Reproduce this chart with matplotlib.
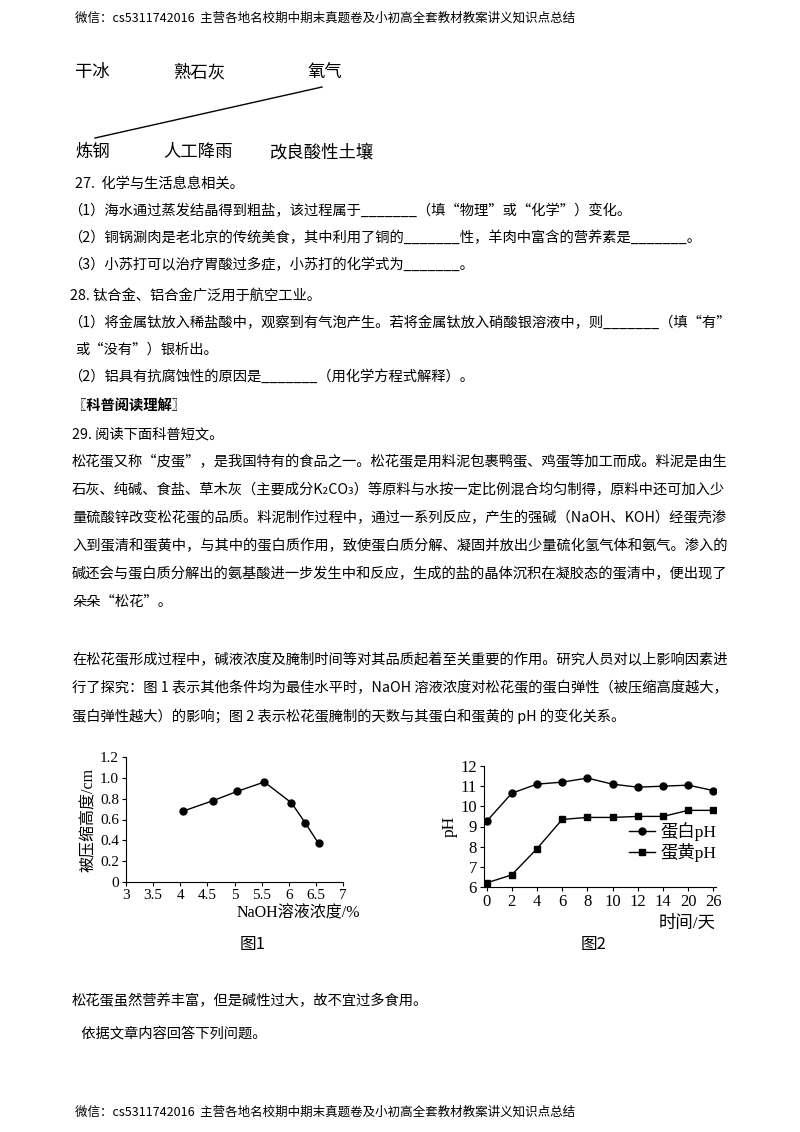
import matplotlib
matplotlib.use("Agg")
import matplotlib.pyplot as plt
from matplotlib.lines import Line2D

plt.rcParams['font.family'] = ['Noto Sans CJK SC', 'DejaVu Sans']

# Figure 1 data
naoh_conc = [4.05, 4.6, 5.05, 5.55, 6.05, 6.3, 6.55]
compress_height = [0.68, 0.78, 0.87, 0.96, 0.76, 0.57, 0.37]
# Figure 2 data
days = ['0', '2', '4', '6', '8', '10', '12', '14', '20', '26']
white_ph = [9.25, 10.65, 11.1, 11.2, 11.4, 11.1, 10.95, 11.0, 11.05, 10.78]
yolk_ph = [6.2, 6.6, 7.9, 9.35, 9.45, 9.45, 9.5, 9.5, 9.8, 9.8]

W, H = 800, 1132
fig = plt.figure(figsize=(8, 11.32), dpi=100)

def T(x, y, s, size=10.3, **kw):
    fig.text(x / W, 1 - y / H, s, fontsize=size, va='center', ha=kw.pop('ha', 'left'), **kw)

hdr = "微信：cs5311742016  主营各地名校期中期末真题卷及小初高全套教材教案讲义知识点总结"
T(75, 18, hdr, size=9)
T(75, 1112, hdr, size=9)

T(75, 72, "干冰", size=12.5)
T(173, 72, "熟石灰", size=12.5)
T(308, 72, "氧气", size=12.5)
T(75, 152, "炼钢", size=12.5)
T(163, 152, "人工降雨", size=12.5)
T(270, 152, "改良酸性土壤", size=12.5)
fig.add_artist(Line2D([95 / W, 322 / W], [1 - 138 / H, 1 - 87 / H], color='black', lw=1))

lines = [
    (75, 184, "27.  化学与生活息息相关。"),
    (68, 211, "（1）海水通过蒸发结晶得到粗盐，该过程属于_______（填“物理”或“化学”）变化。"),
    (68, 238, "（2）铜锅涮肉是老北京的传统美食，其中利用了铜的_______性，羊肉中富含的营养素是_______。"),
    (68, 265, "（3）小苏打可以治疗胃酸过多症，小苏打的化学式为_______。"),
    (70, 296, "28. 钛合金、铝合金广泛用于航空工业。"),
    (68, 323, "（1）将金属钛放入稀盐酸中，观察到有气泡产生。若将金属钛放入硝酸银溶液中，则_______（填“有”"),
    (75, 350, "或“没有”）银析出。"),
    (68, 377, "（2）铝具有抗腐蚀性的原因是_______（用化学方程式解释）。"),
    (72, 434, "29. 阅读下面科普短文。"),
    (72, 462, "松花蛋又称“皮蛋”，是我国特有的食品之一。松花蛋是用料泥包裹鸭蛋、鸡蛋等加工而成。料泥是由生"),
    (72, 490, "石灰、纯碱、食盐、草木灰（主要成分K₂CO₃）等原料与水按一定比例混合均匀制得，原料中还可加入少"),
    (72, 518, "量硫酸锌改变松花蛋的品质。料泥制作过程中，通过一系列反应，产生的强碱（NaOH、KOH）经蛋壳渗"),
    (72, 546, "入到蛋清和蛋黄中，与其中的蛋白质作用，致使蛋白质分解、凝固并放出少量硫化氢气体和氨气。渗入的"),
    (72, 574, "碱还会与蛋白质分解出的氨基酸进一步发生中和反应，生成的盐的晶体沉积在凝胶态的蛋清中，便出现了"),
    (72, 602, "朵朵“松花”。"),
    (72, 660, "在松花蛋形成过程中，碱液浓度及腌制时间等对其品质起着至关重要的作用。研究人员对以上影响因素进"),
    (72, 688, "行了探究：图 1 表示其他条件均为最佳水平时，NaOH 溶液浓度对松花蛋的蛋白弹性（被压缩高度越大，"),
    (72, 716, "蛋白弹性越大）的影响；图 2 表示松花蛋腌制的天数与其蛋白和蛋黄的 pH 的变化关系。"),
    (72, 1001, "松花蛋虽然营养丰富，但是碱性过大，故不宜过多食用。"),
    (78, 1033, " 依据文章内容回答下列问题。"),
]
for x, y, s in lines:
    T(x, y, s)
T(72, 406, "〖科普阅读理解〗", weight='bold')
T(253, 944, "图1", size=12, ha='center')
T(594, 944, "图2", size=12, ha='center')

serif = ['Liberation Serif', 'Noto Sans CJK SC']

# Figure 1 axes
ax1 = fig.add_axes([126 / W, 1 - 882 / H, (343 - 126) / W, (882 - 757) / H])
ax1.plot(naoh_conc, compress_height, color='black', lw=1, marker='o', ms=5)
ax1.set_xlim(3, 7)
ax1.set_ylim(0, 1.2)
ax1.set_xticks([3, 3.5, 4, 4.5, 5, 5.5, 6, 6.5, 7])
ax1.set_xticklabels(['3', '3.5', '4', '4.5', '5', '5.5', '6', '6.5', '7'])
ax1.set_yticks([0, 0.2, 0.4, 0.6, 0.8, 1.0, 1.2])
ax1.set_yticklabels(['0', '0.2', '0.4', '0.6', '0.8', '1.0', '1.2'])
ax1.spines['top'].set_visible(False)
ax1.spines['right'].set_visible(False)
ax1.tick_params(labelsize=11, length=3, direction='out', width=0.8, pad=2)
for lab in ax1.get_xticklabels() + ax1.get_yticklabels():
    lab.set_family(serif)
ax1.set_ylabel("被压缩高度/cm", fontsize=11.5, family=serif, labelpad=2)
fig.text(360 / W, 1 - 913 / H, "NaOH溶液浓度/%", fontsize=11.5, family=serif, ha='right', va='center')

# Figure 2 axes
ax2 = fig.add_axes([484 / W, 1 - 887 / H, (716 - 484) / W, (887 - 766) / H])
xs = list(range(len(days)))
ax2.plot(xs, white_ph, color='black', lw=1, marker='o', ms=5, label='蛋白pH')
ax2.plot(xs, yolk_ph, color='black', lw=1, marker='s', ms=5, label='蛋黄pH')
ax2.set_xlim(-0.1, len(days) - 0.9)
ax2.set_ylim(6, 12)
ax2.set_xticks(xs)
ax2.set_xticklabels(days)
ax2.set_yticks(range(6, 13))
ax2.spines['top'].set_visible(False)
ax2.spines['right'].set_visible(False)
ax2.tick_params(labelsize=12, length=3, direction='out', width=0.8, pad=2)
for lab in ax2.get_xticklabels() + ax2.get_yticklabels():
    lab.set_family(serif)
ax2.set_ylabel("pH", fontsize=12.5, family=serif, labelpad=2)
leg = ax2.legend(loc='lower right', bbox_to_anchor=(1.07, 0.08), frameon=False,
                 prop={'family': serif, 'size': 12.5}, handlelength=1.5, handletextpad=0.3, labelspacing=0.1)
fig.text(716 / W, 1 - 924 / H, "时间/天", fontsize=12.5, family=serif, ha='right', va='center')

fig.savefig("out.png", dpi=100)
